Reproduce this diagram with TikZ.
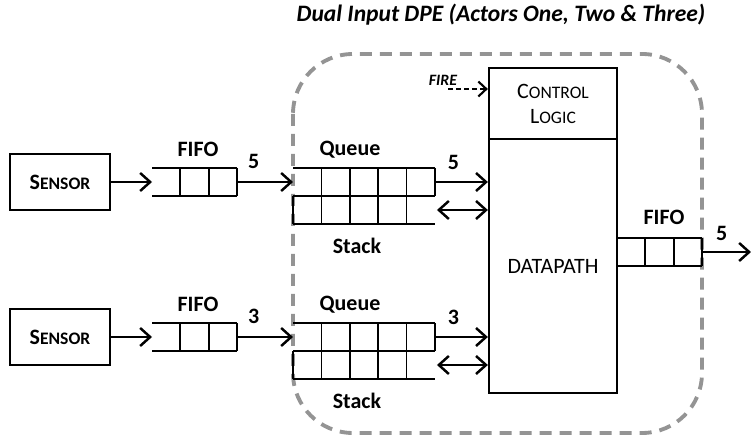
\documentclass[tikz,border=0pt]{standalone}
\usepackage{fontspec}
\setmainfont{Carlito}
\usetikzlibrary{arrows.meta, positioning, calc}
\newcommand\fakesc[2]{#1{\fontsize{10}{11}\selectfont #2}}
\tikzset{
  sensor/.style={rectangle, draw, line width=1.3pt, minimum width=2cm,
    minimum height=1.12cm, font=\bfseries\fontsize{12.5}{14}\selectfont},
  buf/.style={rectangle, inner sep=0pt, outer sep=0pt, minimum height=0.56cm},
  cell/.style={line width=1pt},
  unit/.style={rectangle, draw, line width=1.3pt, minimum width=2.56cm,
    align=center, font=\fontsize{12.5}{14.2}\selectfont, inner sep=0pt},
  lbl/.style={font=\bfseries\fontsize{12.5}{14}\selectfont, anchor=base, inner sep=0pt},
  arr/.style={-{Straight Barb[length=2mm, width=3.6mm]}, line width=1.4pt},
  biarr/.style={{Straight Barb[length=2mm, width=3.6mm]}-{Straight Barb[length=2mm, width=3.6mm]},
    line width=1.4pt},
  firearr/.style={-{Straight Barb[length=1.6mm, width=3mm]}, line width=1.2pt,
    dash pattern=on 0.1cm off 0.06cm},
  boundary/.style={draw=black!42, line width=2.2pt, dash pattern=on 0.24cm off 0.16cm,
    rounded corners=1.2cm},
}

\begin{document}
\begin{tikzpicture}[x=0.02cm, y=-0.02cm]
  \useasboundingbox (0,0) rectangle (751,438);

  % Title and DPE boundary
  \node[font=\bfseries\itshape\fontsize{13.4}{16}\selectfont, anchor=base] (title) at (501,22)
    {Dual Input DPE (Actors One, Two \& Three)};
  \draw[boundary] (293,54) rectangle (702,433);

  % Sensors and input FIFOs
  \node[sensor] (sensA) at (60,182) {\fakesc{S}{ENSOR}};
  \node[sensor] (sensB) at (60,337) {\fakesc{S}{ENSOR}};
  \node[buf, minimum width=1.7cm] (fifoA) at (194.5,182) {};
  \node[buf, minimum width=1.7cm] (fifoB) at (194.5,337) {};

  % Queues and stacks
  \node[buf, minimum width=2.84cm] (qA) at (364,182) {};
  \node[buf, minimum width=2.84cm] (sA) at (364,210) {};
  \node[buf, minimum width=2.84cm] (qB) at (364,337) {};
  \node[buf, minimum width=2.84cm] (sB) at (364,365) {};

  % Control logic, datapath, output FIFO
  \node[unit, minimum height=1.42cm] (ctrl) at (553,103.5) {\fakesc{C}{ONTROL}\\\fakesc{L}{OGIC}};
  \node[unit, minimum height=5.08cm] (dp) at (553,266) {DATAPATH};
  \node[buf, minimum width=1.7cm] (fifoO) at (659.5,252) {};
  \coordinate (out) at (751,252);
  \coordinate (fire) at (448,89);

  % Labels
  \node[lbl] (fifoAlbl) at (198,157) {FIFO};
  \node[lbl] (fifoBlbl) at (198,312) {FIFO};
  \node[lbl] (qAlbl) at (350,156) {Queue};
  \node[lbl] (qBlbl) at (350,311) {Queue};
  \node[lbl] (sAlbl) at (357,254) {Stack};
  \node[lbl] (sBlbl) at (357,409) {Stack};
  \node[lbl] (fifoOlbl) at (664,225) {FIFO};
  \node[font=\bfseries\itshape\fontsize{9}{10}\selectfont, anchor=base] (firelbl) at (443,86) {FIRE};

  % Buffer cells
  \foreach \f in {fifoA,fifoB,fifoO} {
    \draw[cell] (\f.north west) -- (\f.north east) (\f.south west) -- (\f.south east);
    \foreach \i in {1,2,3}
      \draw[cell] ($(\f.north west)!\i/3!(\f.north east)$) -- ($(\f.south west)!\i/3!(\f.south east)$);
  }
  \foreach \q in {qA,qB} {
    \draw[cell] (\q.north west) -- (\q.north east) (\q.south west) -- (\q.south east);
    \foreach \i in {1,...,5}
      \draw[cell] ($(\q.north west)!\i/5!(\q.north east)$) -- ($(\q.south west)!\i/5!(\q.south east)$);
  }
  \foreach \s in {sA,sB} {
    \draw[cell] (\s.north west) -- (\s.north east) (\s.south west) -- (\s.south east);
    \foreach \i in {0,...,4}
      \draw[cell] ($(\s.north west)!\i/5!(\s.north east)$) -- ($(\s.south west)!\i/5!(\s.south east)$);
  }

  % Connections
  \draw[arr] (sensA) -- (fifoA);
  \draw[arr] (sensB) -- (fifoB);
  \draw[arr] (fifoA) -- node[lbl, pos=0.3, yshift=0.26cm] (numA) {5} (qA);
  \draw[arr] (fifoB) -- node[lbl, pos=0.3, yshift=0.26cm] (numB) {3} (qB);
  \draw[arr] (qA) -- node[lbl, pos=0.35, yshift=0.24cm] (numQA) {5} (qA -| dp.west);
  \draw[arr] (qB) -- node[lbl, pos=0.35, yshift=0.24cm] (numQB) {3} (qB -| dp.west);
  \draw[biarr] ([xshift=0.04cm]sA.east) -- (sA -| dp.west);
  \draw[biarr] ([xshift=0.04cm]sB.east) -- (sB -| dp.west);
  \draw[arr] (fifoO) -- node[lbl, pos=0.4, yshift=0.22cm] (numO) {5} (out);
  \draw[firearr] (fire) -- (fire -| ctrl.west);
\end{tikzpicture}
\end{document}
